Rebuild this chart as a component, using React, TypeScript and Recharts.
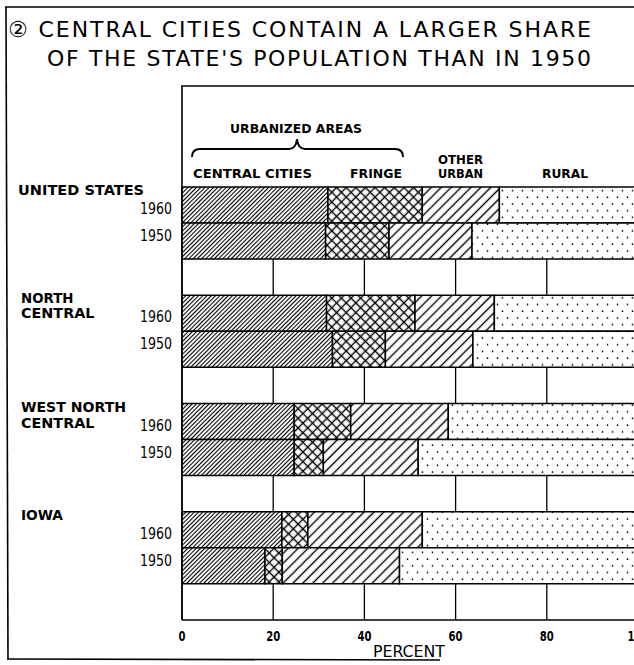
import { BarChart, Bar, XAxis, YAxis, CartesianGrid } from 'recharts';

const titleLines = ['② CENTRAL CITIES CONTAIN A LARGER SHARE', "OF THE STATE'S POPULATION THAN IN 1950"];
const regions = ['UNITED STATES', 'NORTH CENTRAL', 'WEST NORTH CENTRAL', 'IOWA'];
const regionLines = [['UNITED STATES'], ['NORTH', 'CENTRAL'], ['WEST NORTH', 'CENTRAL'], ['IOWA']];
const years = ['1960', '1950'];
const xTicks = [0, 20, 40, 60, 80, 100];

// order: US 1960, US 1950, NC 1960, NC 1950, WNC 1960, WNC 1950, IA 1960, IA 1950
const centralCities = [32.0, 31.5, 31.7, 33.0, 24.6, 24.6, 21.9, 18.2];
const fringe = [20.7, 13.9, 19.4, 11.6, 12.4, 6.4, 5.7, 3.8];
const otherUrban = [16.9, 18.2, 17.4, 19.2, 21.4, 20.8, 25.1, 25.7];
const rural = [30.4, 36.4, 31.5, 36.2, 41.6, 48.2, 47.3, 52.3];

type Row = { id: string; year: string; central?: number; fringe?: number; other?: number; rural?: number };

const rows: Row[] = [];
regions.forEach((r, ri) => {
  years.forEach((y, yi) => {
    const i = ri * 2 + yi;
    rows.push({ id: `${r} ${y}`, year: y, central: centralCities[i], fringe: fringe[i], other: otherUrban[i], rural: rural[i] });
  });
  rows.push({ id: `${r} gap`, year: '' });
});

const font = '"DejaVu Sans", sans-serif';

const YearTick = (props: any) => {
  const { x, y, payload } = props;
  const row = rows[payload.index];
  if (!row || !row.year) return null;
  const dy = row.year === '1960' ? 3 : -6;
  return (
    <text x={x - 34} y={y + dy + 6} textLength={32} lengthAdjust="spacingAndGlyphs" fontSize={15} fill="#000" fontFamily={font}>
      {row.year}
    </text>
  );
};

const PercentTick = (props: any) => {
  const { x, y, payload } = props;
  const s = String(payload.value);
  return (
    <text x={x} y={y + 13} textAnchor="middle" fontSize={14} fontWeight="bold" fill="#000" fontFamily={font}
      textLength={s.length * 7} lengthAdjust="spacingAndGlyphs">
      {s}
    </text>
  );
};

const regionY = [[195], [303, 318], [412, 428], [520]];

export default function App() {
  return (
    <div style={{ position: 'absolute', left: 0, top: 0, width: 634, height: 665, overflow: 'hidden', background: '#fff', fontFamily: font }}>
      <svg width={0} height={0} style={{ position: 'absolute' }}>
        <defs>
          <pattern id="pCentral" patternUnits="userSpaceOnUse" width={3} height={3} patternTransform="rotate(45)">
            <rect width={3} height={3} fill="#fff" />
            <line x1={1.5} y1={0} x2={1.5} y2={3} stroke="#000" strokeWidth={1.1} />
          </pattern>
          <pattern id="pFringe" patternUnits="userSpaceOnUse" width={6.8} height={6.8} patternTransform="rotate(45)">
            <rect width={6.8} height={6.8} fill="#fff" />
            <line x1={3.4} y1={0} x2={3.4} y2={6.8} stroke="#000" strokeWidth={1.4} />
            <line x1={0} y1={3.4} x2={6.8} y2={3.4} stroke="#000" strokeWidth={1.4} />
          </pattern>
          <pattern id="pOther" patternUnits="userSpaceOnUse" width={7} height={7} patternTransform="rotate(45)">
            <rect width={7} height={7} fill="#fff" />
            <line x1={3.5} y1={0} x2={3.5} y2={7} stroke="#000" strokeWidth={1.4} />
          </pattern>
          <pattern id="pRural" patternUnits="userSpaceOnUse" width={10} height={13.4}>
            <rect width={10} height={13.4} fill="#fff" />
            <circle cx={2.5} cy={3} r={0.85} fill="#000" />
            <circle cx={7.5} cy={9.7} r={0.85} fill="#000" />
          </pattern>
        </defs>
      </svg>

      <BarChart
        width={660}
        height={665}
        data={rows}
        layout="vertical"
        margin={{ top: 187, right: 22, bottom: 15, left: 0 }}
        barCategoryGap={0}
        barGap={0}
      >
        <CartesianGrid horizontal={false} vertical stroke="#000" strokeWidth={1.3} />
        <XAxis type="number" domain={[0, 100]} ticks={xTicks} height={30} axisLine={{ stroke: '#000', strokeWidth: 1.6 }} tickLine={false} tick={<PercentTick />} interval={0} />
        <YAxis type="category" dataKey="id" width={182} axisLine={{ stroke: '#000', strokeWidth: 1.6 }} tickLine={false} tick={<YearTick />} interval={0} />
        <Bar dataKey="central" stackId="a" fill="url(#pCentral)" stroke="#000" strokeWidth={1.5} isAnimationActive={false} />
        <Bar dataKey="fringe" stackId="a" fill="url(#pFringe)" stroke="#000" strokeWidth={1.5} isAnimationActive={false} />
        <Bar dataKey="other" stackId="a" fill="url(#pOther)" stroke="#000" strokeWidth={1.5} isAnimationActive={false} />
        <Bar dataKey="rural" stackId="a" fill="url(#pRural)" stroke="#000" strokeWidth={1.5} isAnimationActive={false} />
      </BarChart>

      <svg width={634} height={665} style={{ position: 'absolute', left: 0, top: 0, pointerEvents: 'none' }}>
        {/* outer frame */}
        <line x1={5} y1={7} x2={634} y2={7} stroke="#000" strokeWidth={1.6} />
        <line x1={6} y1={7} x2={8} y2={659} stroke="#000" strokeWidth={1.6} />
        <line x1={7} y1={659} x2={440} y2={660} stroke="#000" strokeWidth={1.6} />
        {/* plot box top */}
        <line x1={181} y1={86} x2={634} y2={86} stroke="#000" strokeWidth={1.6} />
        <line x1={182} y1={86} x2={182} y2={188} stroke="#000" strokeWidth={1.6} />

        <text x={8} y={37} fontSize={22} fill="#000" fontFamily={font} textLength={583} lengthAdjust="spacing">{titleLines[0]}</text>
        <text x={47} y={66} fontSize={22} fill="#000" fontFamily={font} textLength={544} lengthAdjust="spacing">{titleLines[1]}</text>

        {/* header */}
        <text x={230} y={133} fontSize={12.5} fontWeight="bold" fontFamily={font} textLength={132} lengthAdjust="spacingAndGlyphs">URBANIZED AREAS</text>
        <path d="M192 157 Q192 149 200 149 L289 149 Q296 149 297 139 Q298 149 305 149 L395 149 Q403 149 403 157" fill="none" stroke="#000" strokeWidth={2} />
        <text x={193} y={178} fontSize={12.5} fontWeight="bold" fontFamily={font} textLength={119} lengthAdjust="spacingAndGlyphs">CENTRAL CITIES</text>
        <text x={350} y={178} fontSize={12.5} fontWeight="bold" fontFamily={font} textLength={52} lengthAdjust="spacingAndGlyphs">FRINGE</text>
        <text x={438} y={164} fontSize={12.5} fontWeight="bold" fontFamily={font} textLength={45} lengthAdjust="spacingAndGlyphs">OTHER</text>
        <text x={438} y={178} fontSize={12.5} fontWeight="bold" fontFamily={font} textLength={45} lengthAdjust="spacingAndGlyphs">URBAN</text>
        <text x={542} y={178} fontSize={12.5} fontWeight="bold" fontFamily={font} textLength={46} lengthAdjust="spacingAndGlyphs">RURAL</text>

        {regionLines.map((lines, ri) =>
          lines.map((l, li) => (
            <text key={`${ri}-${li}`} x={ri === 0 ? 18 : 21} y={regionY[ri][li]} fontSize={13.5} fontWeight="bold" fontFamily={font}
              textLength={l.length * (ri === 0 ? 9.7 : 10.5)} lengthAdjust="spacingAndGlyphs">{l}</text>
          ))
        )}

        <text x={373} y={657} fontSize={16} fontFamily={font} textLength={72} lengthAdjust="spacingAndGlyphs">PERCENT</text>
      </svg>
    </div>
  );
}
